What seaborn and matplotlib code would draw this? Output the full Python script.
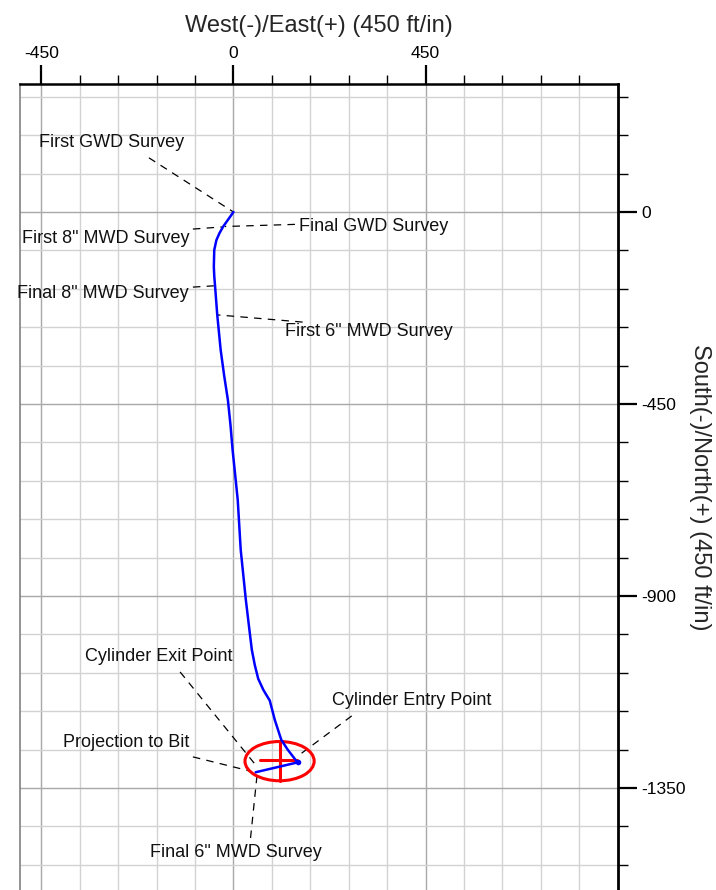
import matplotlib
matplotlib.use("Agg")
import matplotlib.pyplot as plt
from matplotlib.patches import Ellipse
import seaborn as sns
import pandas as pd

# ---- data (ft) ----
east = [0, -12, -24, -33, -40, -45, -46, -45, -43, -38, -30, -22, -13, -7, -2, 4, 10, 17,
        29, 36, 43, 50, 58, 70, 85, 97, 112, 127, 150, 52]
north = [0, -17, -34, -50, -66, -89, -128, -150, -175, -241, -323, -382, -441, -499, -558,
         -616, -675, -792, -909, -968, -1026, -1062, -1094, -1120, -1145, -1191, -1237,
         -1260, -1290, -1313]

target_center = (108, -1287)
target_width = 162
target_height = 92
cross_h_east = [62, 148]
cross_h_north = [-1285, -1285]
cross_v_east = [108, 108]
cross_v_north = [-1241, -1333]

ann_labels = ["First GWD Survey", "First 8\" MWD Survey", "Final GWD Survey",
              "Final 8\" MWD Survey", "First 6\" MWD Survey", "Cylinder Exit Point",
              "Cylinder Entry Point", "Projection to Bit", "Final 6\" MWD Survey"]
ann_text_xy = [(-285, 162), (-300, -61), (329, -35), (-305, -190), (317, -279),
               (-176, -1041), (418, -1144), (-251, -1244), (5, -1502)]
ann_lead_start = [(-198, 127), (-95, -40), (144, -29), (-95, -176), (162, -258),
                  (-125, -1078), (277, -1181), (-95, -1277), (40, -1467)]
ann_lead_end = [(0, 0), (-27, -35), (-20, -34), (-46, -173), (-39, -241),
                (52, -1296), (148, -1277), (38, -1310), (55, -1322)]

x_major = [-450, 0, 450]
x_minor = [-360, -270, -180, -90, 90, 180, 270, 360, 540, 630, 720, 810]
y_major = [0, -450, -900, -1350]
y_minor = [270, 180, 90, -90, -180, -270, -360, -540, -630, -720, -810,
           -990, -1080, -1170, -1260, -1440, -1530]

sns.set_style("white")
plt.rcParams['font.family'] = ['Liberation Sans', 'DejaVu Sans']

fig = plt.figure(figsize=(7.16, 8.90), dpi=100)
ax = fig.add_axes([20 / 716, 0, (617.7 - 20) / 716, (890 - 84) / 890])

ax.set_xlim(-500, 900)
ax.set_ylim(-1589, 300)

# grid
for v in x_minor:
    ax.axvline(v, color='#d2d2d2', lw=1.0, zorder=0)
for v in x_major:
    ax.axvline(v, color='#a8a8a8', lw=1.0, zorder=0)
for v in y_minor:
    ax.axhline(v, color='#d2d2d2', lw=1.0, zorder=0)
for v in y_major:
    ax.axhline(v, color='#a8a8a8', lw=1.0, zorder=0)

# trajectory
df = pd.DataFrame({"east": east, "north": north})
sns.lineplot(data=df, x="east", y="north", sort=False, estimator=None,
             color='#0000ff', lw=1.8, ax=ax, zorder=4)
ax.plot([east[-2]], [north[-2]], marker='o', ms=3, color='#0000ff', zorder=5)

# target cylinder
ax.add_patch(Ellipse(target_center, target_width, target_height, fill=False,
                     edgecolor='#ff0000', lw=2.2, zorder=3))
ax.plot(cross_h_east, cross_h_north, color='#ff0000', lw=2.2, zorder=3)
ax.plot(cross_v_east, cross_v_north, color='#ff0000', lw=2.2, zorder=3)

# annotations
for lab, txy, ls, le in zip(ann_labels, ann_text_xy, ann_lead_start, ann_lead_end):
    ax.plot([ls[0], le[0]], [ls[1], le[1]], color='black', lw=0.9,
            dashes=(6, 5), zorder=2)
    ax.text(txy[0], txy[1], lab, ha='center', va='center', fontsize=13,
            color='#111111', zorder=6)

# axes styling
ax.xaxis.tick_top()
ax.yaxis.tick_right()
ax.set_xticks(x_major)
ax.set_xticks(x_minor, minor=True)
ax.set_yticks(y_major)
ax.set_yticks(y_minor, minor=True)
ax.set_xticklabels([str(v) for v in x_major])
ax.set_yticklabels([str(v) for v in y_major])
ax.tick_params(axis='x', which='major', direction='out', length=13.5, width=1.6,
               colors='black', labelsize=12.6, pad=3, top=True, bottom=False)
ax.tick_params(axis='x', which='minor', direction='out', length=6.8, width=1.0,
               colors='black', top=True, bottom=False)
ax.tick_params(axis='y', which='major', direction='out', length=14, width=1.6,
               colors='black', labelsize=12.6, pad=3, right=True, left=False)
ax.tick_params(axis='y', which='minor', direction='out', length=7.2, width=1.0,
               colors='black', right=True, left=False)
ax.grid(False)

ax.spines['top'].set_color('black')
ax.spines['top'].set_linewidth(1.8)
ax.spines['right'].set_color('black')
ax.spines['right'].set_linewidth(2.0)
ax.spines['left'].set_color('#808080')
ax.spines['left'].set_linewidth(1.2)
ax.spines['bottom'].set_visible(False)

ax.xaxis.set_label_position('top')
ax.set_xlabel("West(-)/East(+) (450 ft/in)", fontsize=17, labelpad=10)
ax.yaxis.set_label_position('right')
ax.set_ylabel("South(-)/North(+) (450 ft/in)", fontsize=17, rotation=270,
              ha='center', va='center')
ax.yaxis.set_label_coords((700 - 20) / 597.7, (890 - 487) / 806)

fig.savefig("out.png", dpi=100)
